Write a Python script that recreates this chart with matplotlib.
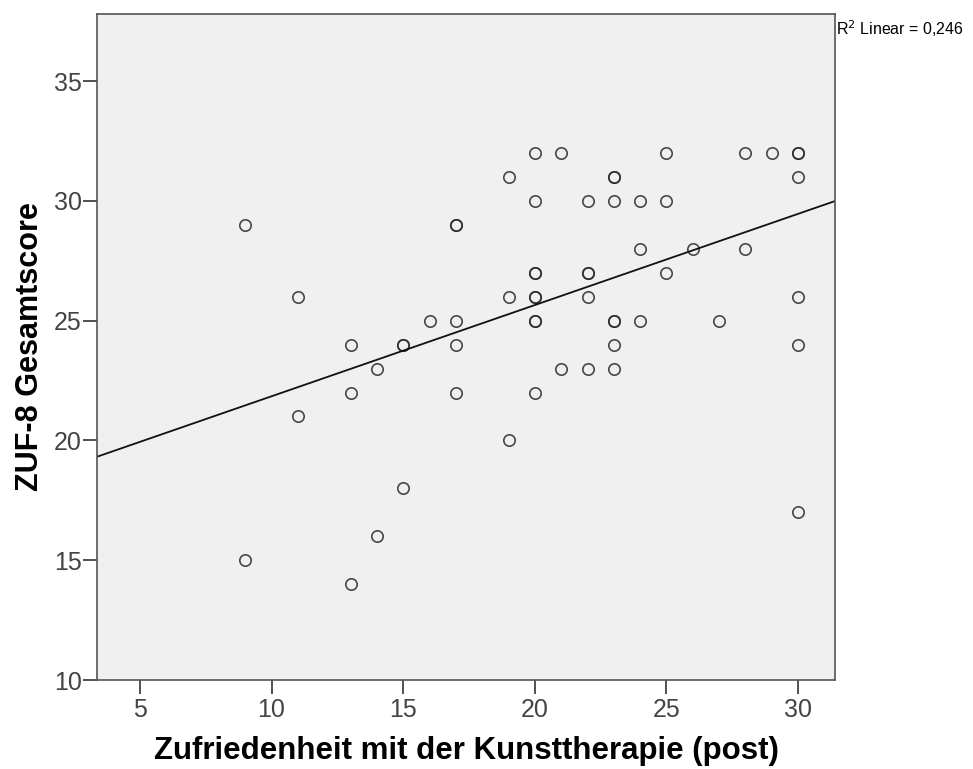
import numpy as np
import matplotlib
matplotlib.use("Agg")
import matplotlib.pyplot as plt

# Zufriedenheit mit der Kunsttherapie (post)
x_vals = [9, 9,
          11, 11,
          13, 13, 13,
          14, 14,
          15, 15, 15,
          16,
          17, 17, 17, 17, 17,
          19, 19, 19,
          20, 20, 20, 20, 20, 20, 20, 20, 20,
          21, 21,
          22, 22, 22, 22, 22,
          23, 23, 23, 23, 23, 23, 23,
          24, 24, 24,
          25, 25, 25,
          26,
          27,
          28, 28,
          29,
          30, 30, 30, 30, 30, 30]
# ZUF-8 Gesamtscore
y_vals = [29, 15,
          26, 21,
          24, 22, 14,
          23, 16,
          24, 24, 18,
          25,
          29, 29, 25, 24, 22,
          31, 26, 20,
          32, 30, 27, 27, 26, 26, 25, 25, 22,
          32, 23,
          30, 27, 27, 26, 23,
          31, 31, 30, 25, 25, 24, 23,
          30, 28, 25,
          32, 30, 27,
          28,
          25,
          32, 28,
          32,
          32, 32, 31, 26, 24, 17]

r2_label = "R$^2$ Linear = 0,246"
xlabel = "Zufriedenheit mit der Kunsttherapie (post)"
ylabel = "ZUF-8 Gesamtscore"
xticks = [5, 10, 15, 20, 25, 30]
yticks = [10, 15, 20, 25, 30, 35]

plt.rcParams['font.family'] = ['Liberation Sans', 'DejaVu Sans']

fig = plt.figure(figsize=(9.73, 7.69), dpi=100)
ax = fig.add_axes([97/973, 1-680/769, (835-97)/973, (680-14)/769])
ax.set_facecolor('#f0f0f0')

xs = np.array(x_vals, float)
ys = np.array(y_vals, float)
ax.plot(xs, ys, linestyle='none', marker='o', markersize=8.2,
        markerfacecolor='none', markeredgecolor='#2a2a2a', markeredgewidth=1.2, alpha=0.85)

x0, x1 = 3.37, 31.4
slope, inter = np.polyfit(xs, ys, 1)
lx = np.array([x0, x1])
ax.plot(lx, inter + slope*lx, color='#111111', linewidth=1.3)

ax.set_xlim(x0, x1)
ax.set_ylim(10, 37.8)
ax.set_xticks(xticks)
ax.set_yticks(yticks)
ax.tick_params(direction='out', length=10, width=1.2, color='#333333',
               labelsize=18, labelcolor='#444444', pad=1)
ax.tick_params(axis='x', pad=3)
for s in ax.spines.values():
    s.set_color('#555555')
    s.set_linewidth(1.2)

ax.set_xlabel(xlabel, fontsize=22.5, fontweight='bold', labelpad=10)
ax.set_ylabel(ylabel, fontsize=22, fontweight='bold', labelpad=6)

fig.text(836/973, 1-29/769, r2_label, fontsize=11.5, va='center', ha='left')

fig.savefig('out.png', dpi=100)
